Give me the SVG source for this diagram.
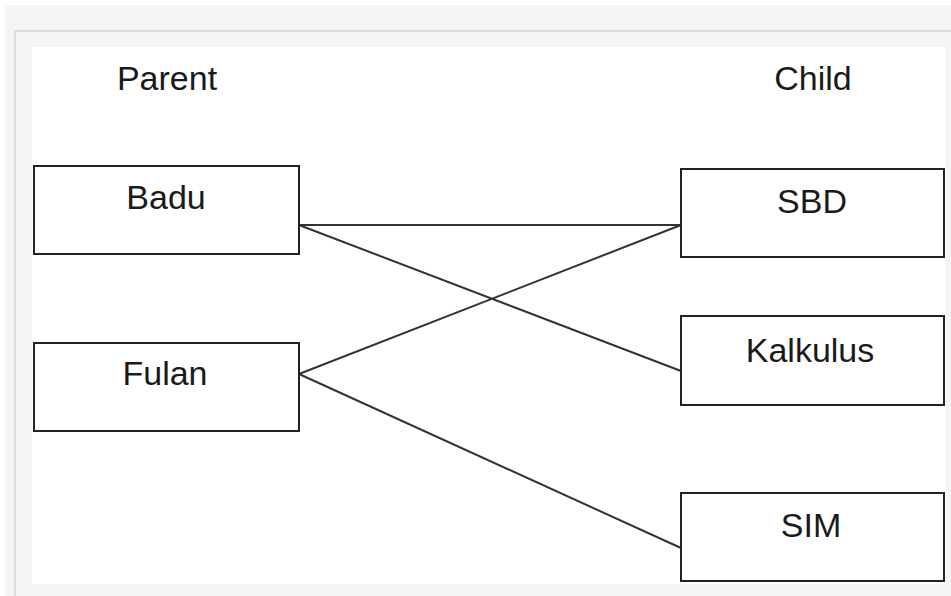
<svg xmlns="http://www.w3.org/2000/svg" width="951" height="596" viewBox="0 0 951 596">
  <style>
    .box { fill: #ffffff; stroke: #222222; stroke-width: 2; }
    .label { font-family: "Liberation Sans", Arial, sans-serif; font-size: 34px; fill: #1a1a1a; text-anchor: middle; }
    .link { stroke: #333333; stroke-width: 2; fill: none; }
    .frame { stroke: #dcdcdc; stroke-width: 2; fill: none; }
  </style>

  <!-- page background and panel frame -->
  <rect x="0" y="0" width="951" height="596" fill="#ffffff"/>
  <rect x="5" y="5" width="946" height="591" fill="#f5f5f5"/>
  <path class="frame" d="M15 596 V31 H951"/>
  <rect x="32" y="47" width="914" height="537" fill="#ffffff"/>

  <!-- column headings -->
  <text class="label" x="167" y="90">Parent</text>
  <text class="label" x="813" y="90">Child</text>

  <!-- connectors -->
  <g id="connectors">
    <line class="link" x1="299" y1="225" x2="681" y2="225"/>
    <line class="link" x1="299" y1="225" x2="681" y2="371"/>
    <line class="link" x1="299" y1="374" x2="681" y2="225"/>
    <line class="link" x1="299" y1="374" x2="681" y2="548"/>
  </g>

  <!-- parent nodes -->
  <g id="badu">
    <rect class="box" x="34" y="166" width="265" height="88"/>
    <text class="label" x="166" y="209">Badu</text>
  </g>
  <g id="fulan">
    <rect class="box" x="34" y="343" width="265" height="88"/>
    <text class="label" x="165" y="385">Fulan</text>
  </g>

  <!-- child nodes -->
  <g id="sbd">
    <rect class="box" x="681" y="169" width="263" height="88"/>
    <text class="label" x="812" y="213">SBD</text>
  </g>
  <g id="kalkulus">
    <rect class="box" x="681" y="316" width="263" height="89"/>
    <text class="label" x="810" y="362">Kalkulus</text>
  </g>
  <g id="sim">
    <rect class="box" x="681" y="493" width="263" height="88"/>
    <text class="label" x="811" y="537">SIM</text>
  </g>
</svg>
